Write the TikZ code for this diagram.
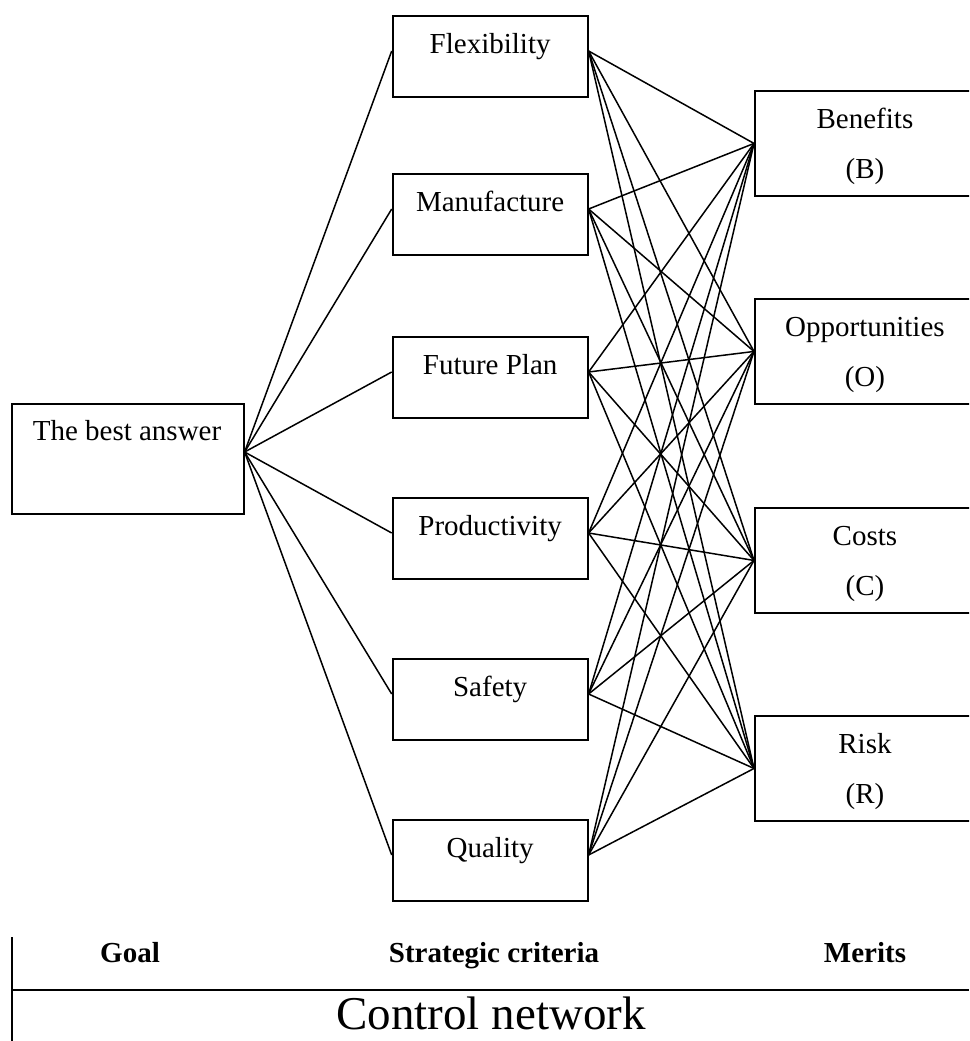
\documentclass[tikz,border=0pt]{standalone}
\usepackage{fontspec}
\setmainfont{Liberation Serif}
\usetikzlibrary{calc}
\begin{document}
\begin{tikzpicture}[x=1pt,y=-1pt,
  box/.style={draw, line width=1.9pt, inner sep=0pt, anchor=north west},
  lbl/.style={anchor=base, inner sep=0pt, font=\fontsize{29}{35}\selectfont},
  head/.style={anchor=base, inner sep=0pt, font=\fontsize{29}{35}\selectfont\bfseries},
  title/.style={anchor=base, inner sep=0pt, font=\fontsize{47}{55}\selectfont},
  link/.style={line width=1.5pt},
  rule/.style={line width=2.4pt},
]
\useasboundingbox (0,0) rectangle (969,1041);
\clip (0,0) rectangle (969,1041);

% goal
\node[box, minimum width=232pt, minimum height=110pt] (goal) at (10.7,403) {};
\node[lbl] (goal-t) at (127,440) {The best answer};

% strategic criteria
\foreach \n/\top/\txt in {flex/15/Flexibility, manu/173/Manufacture,
    plan/336/Future Plan, prod/497/Productivity, safe/658/Safety, qual/819/Quality} {
  \node[box, minimum width=195pt, minimum height=81pt] (\n) at (391.7,\top) {};
  \node[lbl] (\n-t) at ($(\n.north)+(0,38)$) {\txt};
}

% merits
\foreach \n/\top/\txt/\abbr in {ben/90/Benefits/B, opp/298/Opportunities/O,
    cost/507/Costs/C, risk/715/Risk/R} {
  \node[box, minimum width=220pt, minimum height=105pt] (\n) at (754,\top) {};
  \node[lbl] (\n-t) at ($(\n.north)+(0,38)$) {\txt};
  \node[lbl] (\n-a) at ($(\n.north)+(0,88)$) {(\abbr)};
}

% goal to criteria
\foreach \n in {flex,manu,plan,prod,safe,qual}
  \draw[link] ($(goal.north east)+(0,49)$) -- ($(\n.north west)+(0,36)$);

% criteria to merits
\foreach \n in {flex,manu,plan,prod,safe,qual}
  \foreach \m in {ben,opp,cost,risk}
    \draw[link] ($(\n.north east)+(0,36)$) -- (\m.west);

% legend strip
\coordinate (vtop) at (11.7,937);
\coordinate (vbot) at (11.7,1041);
\coordinate (hl) at (11.7,990);
\coordinate (hr) at (969,990);
\draw[line width=2pt] (vtop) -- (vbot);
\draw[rule] (hl) -- (hr);
\node[head] (goal-h) at (130,962) {Goal};
\node[head] (crit-h) at (494,962) {Strategic criteria};
\node[head] (merit-h) at (865,962) {Merits};
\node[title] (ctrl) at (491,1029) {Control network};
\end{tikzpicture}
\end{document}
